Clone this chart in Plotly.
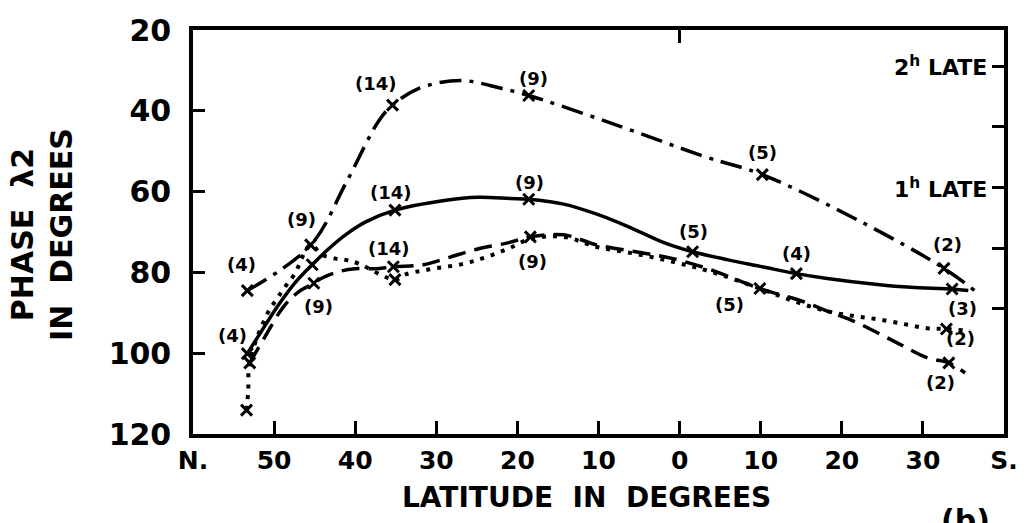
import plotly.graph_objects as go

# ---------------- axes ----------------
lat_ticks = [60, 50, 40, 30, 20, 10, 0, -10, -20, -30, -40]
lat_labels = ["N.", "50", "40", "30", "20", "10", "0", "10", "20", "30", "S."]
phase_ticks = [20, 40, 60, 80, 100, 120]
late_ticks = [29, 44, 59, 74, 89]          # half-hour steps of lunar time
late_label_vals = [29, 59]
late_label_text = ["2<sup>h</sup> LATE", "1<sup>h</sup> LATE"]
equator_tick = [0]

# ---------------- series ----------------
# dash-dot curve
dd_lat = [53.3, 45.5, 41.1, 37.1, 35.4, 32.2, 27.0, 21.9, 18.6, 8.8, -3.2, -10.2, -22.4, -32.6, -36.5]
dd_val = [84.5, 73.3, 57.7, 42.5, 38.6, 34.5, 32.5, 34.5, 36.2, 42.8, 51.4, 55.8, 67.5, 79.0, 84.7]
dd_pt_lat = [53.3, 45.5, 35.4, 18.6, -10.2, -32.6]
dd_pt_val = [84.5, 73.2, 38.6, 36.2, 55.8, 79.0]
dd_n = ["(4)", "(9)", "(14)", "(9)", "(5)", "(2)"]

# solid curve
so_lat = [53.3, 51.0, 49.4, 47.3, 45.3, 43.3, 41.2, 38.7, 35.1, 29.0, 24.9, 20.9, 18.6, 14.3, 10.2,
          6.2, 2.1, -1.6, -6.0, -10.2, -14.4, -18.2, -24.4, -28.5, -33.6, -35.6]
so_val = [100.1, 92.8, 87.9, 82.3, 78.1, 74.2, 70.7, 67.5, 64.6, 62.2, 61.4, 61.7, 61.9, 63.1, 65.6,
          68.8, 72.5, 74.9, 76.9, 78.6, 80.3, 81.5, 83.0, 83.7, 84.1, 84.5]
so_pt_lat = [53.3, 45.3, 35.1, 18.6, -1.6, -14.4, -33.6]
so_pt_val = [100.1, 78.1, 64.6, 61.9, 74.9, 80.3, 84.1]
so_n = ["(4)", "", "(14)", "(9)", "(5)", "(4)", "(3)"]

# dashed curve
da_lat = [53.0, 51.2, 48.8, 46.9, 45.1, 44.2, 42.0, 40.0, 37.5, 35.3, 31.6, 28.6, 24.9, 21.2, 18.4,
          14.3, 10.2, 5.4, 0.8, -3.8, -6.0, -9.9, -15.2, -18.2, -21.5, -26.4, -30.5, -33.2, -35.2]
da_val = [102.4, 96.2, 88.4, 84.7, 82.7, 81.5, 79.8, 79.1, 79.1, 78.6, 78.1, 76.4, 74.2, 72.7, 71.2,
          70.7, 73.2, 74.9, 76.6, 79.3, 81.0, 84.0, 87.2, 89.6, 92.1, 97.0, 101.1, 102.4, 104.9]
da_pt_lat = [53.0, 45.1, 35.3, 18.4, -9.9, -33.2]
da_pt_val = [102.4, 82.7, 78.6, 71.2, 84.0, 102.4]
da_n = ["", "(9)", "(14)", "(9)", "(5)", "(2)"]

# dotted curve
do_lat = [53.4, 53.2, 53.0, 50.8, 49.7, 48.8, 47.5, 45.5, 44.1, 42.4, 41.2, 39.6, 35.1, 33.8, 31.0,
          26.5, 23.7, 21.2, 18.4, 14.3, 10.2, 5.4, 0.8, -3.8, -9.9, -14.2, -18.2, -21.5, -24.4,
          -27.7, -30.5, -32.9, -35.8]
do_val = [114.1, 109.7, 102.0, 90.1, 86.7, 84.0, 80.5, 73.2, 75.6, 76.6, 76.9, 77.8, 81.8, 80.5, 79.3,
          77.8, 76.1, 74.2, 71.7, 71.2, 73.7, 75.4, 77.4, 79.8, 84.0, 87.2, 89.6, 90.8, 91.6,
          92.8, 93.8, 94.0, 94.5]
do_pt_lat = [53.4, 35.1, -32.9]
do_pt_val = [114.1, 81.8, 94.0]
do_n = ["", "", "(2)"]

# ---------------- styling ----------------
INK = "black"
FONT = "DejaVu Sans"

series = [
    dict(lat=dd_lat, val=dd_val, plat=dd_pt_lat, pval=dd_pt_val, n=dd_n,
         dash="22px,8px,4px,8px", width=3.5,
         off=[(-6, -26), (-9, -25), (-17, -22), (5, -17), (0, -22), (4, -24)]),
    dict(lat=so_lat, val=so_val, plat=so_pt_lat, pval=so_pt_val, n=so_n,
         dash="solid", width=3.5,
         off=[(-15, -18), (0, 0), (-4, -18), (1, -17), (1, -20), (0, -20), (10, 20)]),
    dict(lat=da_lat, val=da_val, plat=da_pt_lat, pval=da_pt_val, n=da_n,
         dash="18px,9px", width=3.5,
         off=[(0, 0), (5, 23), (-4, -18), (2, 25), (-30, 16), (-8, 20)]),
    dict(lat=do_lat, val=do_val, plat=do_pt_lat, pval=do_pt_val, n=do_n,
         dash="4px,7px", width=4,
         off=[(0, 0), (0, 0), (14, 10)]),
]

fig = go.Figure()
annotations = []
for s in series:
    fig.add_trace(go.Scatter(
        x=s["lat"], y=s["val"], mode="lines",
        line=dict(color=INK, width=s["width"], dash=s["dash"], shape="spline", smoothing=1.0),
        hoverinfo="skip", showlegend=False))
    fig.add_trace(go.Scatter(
        x=s["plat"], y=s["pval"], mode="markers",
        marker=dict(symbol="x-thin", size=11, line=dict(color=INK, width=3)),
        showlegend=False))
    for xv, yv, txt, (dx, dy) in zip(s["plat"], s["pval"], s["n"], s["off"]):
        if txt:
            annotations.append(dict(
                x=xv, y=yv, xref="x", yref="y", text=txt, showarrow=False,
                xshift=dx, yshift=-dy,
                font=dict(family=FONT, size=18, color=INK, weight="bold")))

# empty trace so the top/right tick axes get a subplot of their own
fig.add_trace(go.Scatter(x=[None], y=[None], xaxis="x2", yaxis="y2", mode="markers",
                         hoverinfo="skip", showlegend=False))

for yv, txt in zip(late_label_vals, late_label_text):
    annotations.append(dict(
        x=1, y=yv, xref="paper", yref="y", text=txt, showarrow=False,
        xanchor="right", yanchor="middle", xshift=-15,
        font=dict(family=FONT, size=22, color=INK, weight="bold")))

annotations += [
    dict(x=0.485, y=-0.157, xref="paper", yref="paper", text="LATITUDE  IN  DEGREES",
         xanchor="center", yanchor="middle", showarrow=False,
         font=dict(family=FONT, size=28, color=INK, weight="bold")),
    dict(x=-0.186, y=0.493, xref="paper", yref="paper", text="PHASE  λ2<br>IN  DEGREES",
         xanchor="center", yanchor="middle", textangle=-90, showarrow=False,
         font=dict(family=FONT, size=30, color=INK, weight="bold")),
    dict(x=0.953, y=-0.165, xref="paper", yref="paper", text="(b)",
         xanchor="center", yanchor="top",
         showarrow=False, font=dict(family=FONT, size=30, color=INK, weight="bold")),
]

axis_common = dict(showgrid=False, zeroline=False, color=INK)

fig.update_layout(
    width=1030, height=523,
    margin=dict(l=193, r=19, t=25, b=89),
    paper_bgcolor="white", plot_bgcolor="white",
    xaxis=dict(range=[60, -40], tickmode="array", tickvals=lat_ticks, ticktext=lat_labels,
               ticks="inside", ticklen=13, tickwidth=2.5, tickcolor=INK,
               showline=True, linewidth=3.5, linecolor=INK, mirror=True,
               ticklabelstandoff=1,
               tickfont=dict(family=FONT, size=25, color=INK, weight="bold"), **axis_common),
    yaxis=dict(range=[120, 20], tickmode="array", tickvals=phase_ticks,
               ticks="inside", ticklen=12, tickwidth=2.5, tickcolor=INK,
               showline=True, linewidth=3.5, linecolor=INK, mirror=True,
               ticklabelstandoff=12,
               tickfont=dict(family=FONT, size=30, color=INK, weight="bold"), **axis_common),
    xaxis2=dict(range=[60, -40], overlaying="x", side="top", anchor="y2",
                tickmode="array", tickvals=equator_tick, ticks="inside", ticklen=13, tickwidth=2.5,
                tickcolor=INK, showticklabels=False, **axis_common),
    yaxis2=dict(range=[120, 20], overlaying="y", side="right", anchor="x2",
                tickmode="array", tickvals=late_ticks, ticks="inside", ticklen=12, tickwidth=2.5,
                tickcolor=INK, showticklabels=False, **axis_common),
    annotations=annotations,
)

fig.write_html("out.html")
